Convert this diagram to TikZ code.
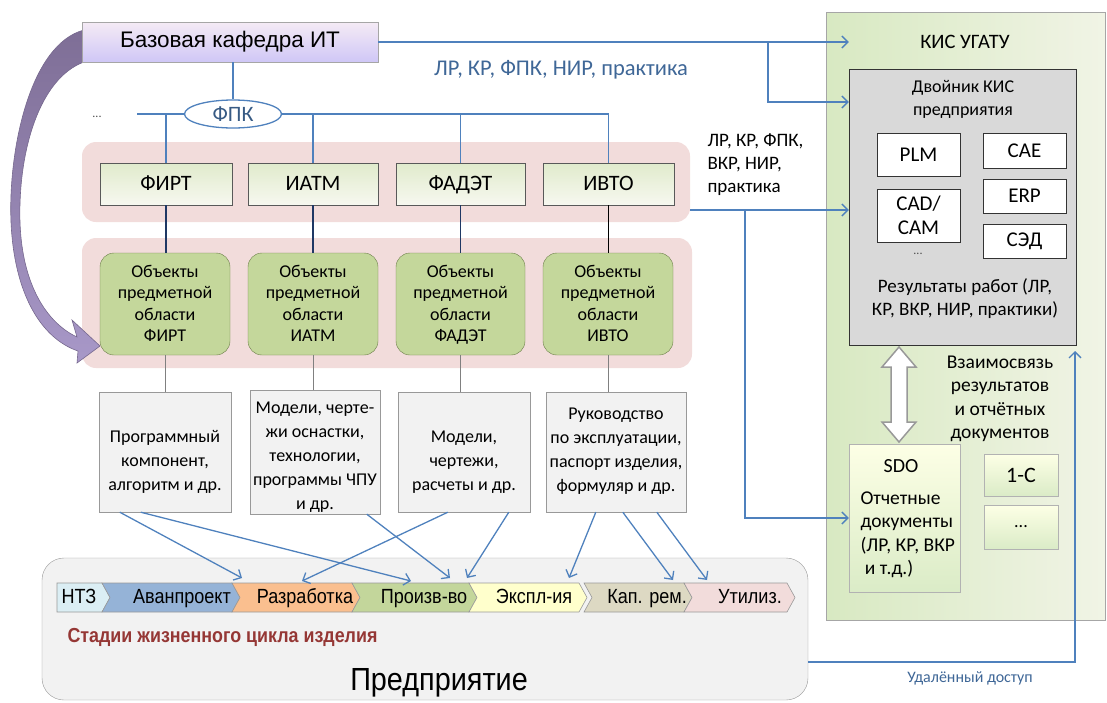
\documentclass[tikz,border=0pt]{standalone}
\usepackage{fontspec}
\setmainfont{Carlito}
\newfontfamily\arialf{Liberation Sans}
\newfontfamily\narrowf[FakeStretch=0.88]{Liberation Sans}
\newfontfamily\entf[FakeStretch=0.9]{Liberation Sans}
\newfontfamily\narrowbf[FakeStretch=0.88]{Liberation Sans Bold}
\usetikzlibrary{arrows.meta,shapes.geometric,calc}
\definecolor{cblue}{HTML}{4F81BD}
\definecolor{cnavy}{HTML}{1F3864}
\definecolor{cpink}{HTML}{F2DCDB}
\definecolor{cgreen}{HTML}{C4D79B}
\definecolor{cgborder}{HTML}{6B7D48}
\definecolor{cgray}{HTML}{F2F2F2}
\definecolor{cdred}{HTML}{953735}
\definecolor{cpurple}{HTML}{A898C8}
\definecolor{cpurpletop}{HTML}{7E6E96}
\definecolor{cpurpled}{HTML}{76688E}
\tikzset{
  band/.style={fill=cpink, rounded corners=14pt, draw=none},
  facbox/.style={draw=gray!70!black, top color=green!20!olive!20!white, bottom color=green!8!olive!6!white, minimum height=42pt, font=\fontsize{22}{24}\selectfont, text height=15pt, text depth=3pt, inner sep=0pt},
  objbox/.style={draw=cgborder, fill=cgreen, rounded corners=14pt, minimum height=102pt, align=center, font=\fontsize{18}{21.5}\selectfont, text depth=1pt, inner sep=0pt},
  resbox/.style={draw=gray!80, fill=cgray, minimum height=120pt, align=center, font=\fontsize{18}{24}\selectfont, text depth=5pt, inner sep=0pt},
  sysbox/.style={draw=black!80, fill=white, minimum width=83pt, align=center, font=\fontsize{21}{24}\selectfont, inner sep=0pt},
  gbox/.style={draw=gray!60, top color=green!8!yellow!10!white, bottom color=green!30!olive!22!white, align=center, inner sep=0pt},
  conn/.style={draw=cblue, line width=1.3pt, -{Straight Barb[length=6pt,width=12pt]}},
  bl/.style={draw=cblue, line width=1.3pt},
  nv/.style={draw=cnavy, line width=1.3pt},
  gl/.style={draw=gray, line width=0.9pt},
  stage/.style={draw=gray!80, line width=0.6pt},
  stagetxt/.style={font=\narrowf\fontsize{20.5}{22}\selectfont, inner sep=0pt, text height=15pt, text depth=4pt},
}
\begin{document}
\begin{tikzpicture}[x=1pt,y=-1pt]
\useasboundingbox (0,0) rectangle (1107,702);

% right panel
\node[draw=gray!70, left color=green!28!olive!24!white, right color=green!12!olive!10!white, minimum width=279pt, minimum height=608pt, inner sep=0pt] (kis) at (965.5,316) {};
\node[font=\fontsize{20.5}{22}\selectfont] (kist) at (965,42) {КИС УГАТУ};
\node[draw=black!80, fill=black!15, minimum width=227pt, minimum height=276pt, inner sep=0pt] (twin) at (962.5,207) {};
\node[align=center, font=\fontsize{18}{23}\selectfont] (twint) at (963,99) {Двойник КИС\\предприятия};
\node[sysbox, minimum height=43pt] (plm) at (918.5,154.5) {PLM};
\node[sysbox, minimum height=35pt] (cae) at (1024.5,150.5) {CAE};
\node[sysbox, minimum height=53pt, font=\fontsize{21}{24}\selectfont] (cad) at (918.5,215.5) {CAD/\\CAM};
\node[sysbox, minimum height=34pt] (erp) at (1024.5,196) {ERP};
\node[sysbox, minimum height=34pt] (sed) at (1024.5,241) {СЭД};
\node[font=\fontsize{12}{14}\selectfont, text=black!70] (kdots) at (918,254) {...};
\node[align=center, font=\fontsize{19}{23}\selectfont] (rest) at (965,299) {Результаты работ (ЛР,\\КР, ВКР, НИР, практики)};
\node[gbox, minimum width=111pt, minimum height=148pt] (sdo) at (904.5,518) {};
\node[font=\fontsize{20}{22}\selectfont] (sdot) at (901,466) {SDO};
\node[align=left, font=\fontsize{19.5}{23.5}\selectfont, anchor=west] (sdotx) at (857,535) {Отчетные\\документы\\(ЛР, КР, ВКР\\\ и т.д.)};
\node[gbox, minimum width=74pt, minimum height=42pt, font=\fontsize{22}{24}\selectfont] (c1) at (1021,475) {1-С};
\node[gbox, minimum width=74pt, minimum height=44pt, font=\fontsize{18}{20}\selectfont] (cdots) at (1021,527) {...};
\draw[draw=gray!80, fill=white, line width=1.5pt, line join=miter] (899,347) -- (916,367) -- (907,367) -- (907,422) -- (916,422) -- (899,442) -- (882,422) -- (891,422) -- (891,367) -- (882,367) -- cycle;
\node[align=center, font=\fontsize{19.5}{23.5}\selectfont] (rel) at (1000,399) {Взаимосвязь\\результатов\\и отчётных\\документов};

% enterprise
\node[draw=gray!80, fill=cgray, rounded corners=22pt, minimum width=766pt, minimum height=142pt, inner sep=0pt] (ent) at (425,629) {};
\foreach \xl/\xr/\c/\nm/\t/\tx/\first in {
  57/110/DBEEF4/s1/НТЗ/79/1,
  102/240/95B3D7/s2/Аванпроект/182/0,
  232/360/FABF8F/s3/Разработка/305/0,
  352/477/C3D69B/s4/Произв-во/424/0,
  469/587/FFFFCC/s5/Экспл-ия/534/0,
  584/692/DDD9C3/s6/Кап. рем./647/0,
  684/795/F2DCDB/s7/Утилиз./750/0}{
  \definecolor{stc}{HTML}{\c}
  \ifnum\first=1
    \draw[stage, fill=stc] (\xl,583) -- (\xr-8,583) -- (\xr,597.5) -- (\xr-8,612) -- (\xl,612) -- cycle;
  \else
    \draw[stage, fill=stc] (\xl,583) -- (\xr-8,583) -- (\xr,597.5) -- (\xr-8,612) -- (\xl,612) -- (\xl+8,597.5) -- cycle;
  \fi
  \node[stagetxt] (\nm) at (\tx,598) {\t};
}
\node[anchor=west, font=\narrowbf\fontsize{20.3}{22}\selectfont, text=cdred] (lct) at (64,637) {Стадии жизненного цикла изделия};
\node[font=\entf\fontsize{32}{34}\selectfont] (entt) at (439,683) {Предприятие};

% bands
\node[band, minimum width=608pt, minimum height=80pt] (band1) at (386,182) {};
\node[band, minimum width=610pt, minimum height=130pt] (band2) at (387,303) {};

% purple curved arrow
\shade[top color=cpurpletop, bottom color=cpurple, draw=cpurpled, line width=0.6pt]
  (84,30) .. controls (30,44) and (8,150) .. (11,222) .. controls (14,292) and (40,338) .. (78,351)
  -- (77,363) -- (100,346) -- (72,320) -- (77,337)
  .. controls (47,323) and (22,285) .. (20,222) .. controls (18,150) and (40,78) .. (84,62) -- cycle;

% base box
\node[draw=gray!70, top color=violet!8!white, bottom color=violet!30!blue!22!white, minimum width=296pt, minimum height=40pt, font=\arialf\fontsize{22.5}{24}\selectfont, inner sep=0pt] (base) at (230,42) {Базовая кафедра ИТ};
\node[draw=cblue, line width=1.3pt, fill=white, ellipse, minimum width=97pt, minimum height=28pt, inner sep=0pt, font=\fontsize{22}{22}\selectfont, text=cblue!70!black] (fpk) at (233,114) {ФПК};
\node[font=\fontsize{12}{14}\selectfont, text=black!70] (tdots) at (97,117) {...};
\coordinate (hl) at (137,114);

% faculties
\node[facbox, minimum width=132pt] (firt) at (166,184) {ФИРТ};
\node[facbox, minimum width=130pt] (iatm) at (313,184) {ИАТМ};
\node[facbox, minimum width=129pt] (fadet) at (460.5,184) {ФАДЭТ};
\node[facbox, minimum width=131pt] (ivto) at (608.5,184) {ИВТО};

\draw[bl] (fpk.north |- base.south) -- (fpk.north);
\draw[bl] (hl) -- (fpk.west);
\draw[bl] (fpk.east) -- (ivto.north |- fpk.east);
\foreach \n in {firt,iatm,fadet,ivto}{\draw[bl] (\n.north |- fpk.east) -- (\n.north);}

% objects
\node[objbox, minimum width=130pt] (ofirt) at (165,304) {Объекты\\предметной\\области\\ФИРТ};
\node[objbox, minimum width=130pt] (oiatm) at (313,304) {Объекты\\предметной\\области\\ИАТМ};
\node[objbox, minimum width=129pt] (ofadet) at (460.5,304) {Объекты\\предметной\\области\\ФАДЭТ};
\node[objbox, minimum width=130pt] (oivto) at (608,304) {Объекты\\предметной\\области\\ИВТО};
\draw[nv] (firt.south) -- (firt.south |- ofirt.north);
\draw[nv] (iatm.south) -- (iatm.south |- oiatm.north);
\draw[nv] (fadet.south) -- (fadet.south |- ofadet.north);
\draw[black, line width=1.3pt] (ivto.south) -- (ivto.south |- oivto.north);

% results
\node[resbox, minimum width=132pt] (r1) at (165,452) {\rule{0pt}{33pt}Программный\\компонент,\\алгоритм и др.};
\node[resbox, minimum width=130pt] (r2) at (315,452) {\rule{0pt}{23pt}Модели, черте-\\жи оснастки,\\технологии,\\программы ЧПУ\\и др.};
\node[resbox, minimum width=132pt] (r3) at (464,452) {\rule{0pt}{33pt}Модели,\\чертежи,\\расчеты и др.};
\node[resbox, minimum width=140pt] (r4) at (616,452) {Руководство\\по эксплуатации,\\паспорт изделия,\\формуляр и др.};
\draw[gl] (ofirt.south) -- (ofirt.south |- r1.north);
\draw[gl] (oiatm.south) -- (oiatm.south |- r2.north);
\draw[gl] (ofadet.south) -- (ofadet.south |- r3.north);
\draw[gl] (oivto.south) -- (oivto.south |- r4.north);

% arrows to stages
\coordinate (t1) at (242,578);
\coordinate (t2) at (411,581);
\coordinate (t3) at (450,578);
\coordinate (t4) at (302,581);
\coordinate (t5) at (467,578);
\coordinate (t6) at (569,578);
\coordinate (t7) at (673,580);
\coordinate (t8) at (707,580);
\draw[conn] ($(r1.south west)+(21,0)$) -- (t1);
\draw[conn] ($(r1.south west)+(42,0)$) -- (t2);
\draw[conn] ($(r2.south west)+(117,0)$) -- (t3);
\draw[conn] ($(r3.south west)+(50,0)$) -- (t4);
\draw[conn] ($(r3.south west)+(111,0)$) -- (t5);
\draw[conn] ($(r4.south west)+(50,0)$) -- (t6);
\draw[conn] ($(r4.south west)+(77,0)$) -- (t7);
\draw[conn] ($(r4.south west)+(111,0)$) -- (t8);

% right-side connectors
\coordinate (br1) at (768,42);
\coordinate (b3) at (690,210);
\coordinate (br2) at (745,210);
\coordinate (ra) at (808,662);
\coordinate (rb) at (1075,351);
\draw[conn] (base.east) -- (twin.west |- base.east);
\draw[conn] (br1) |- (twin.west |- 0,102);
\draw[conn] (b3) -- (twin.west |- b3);
\draw[conn] (br2) |- (sdo.west);
\draw[conn] (ra) -| (rb);

\node[font=\fontsize{22.5}{24}\selectfont, text=cblue!80!black] (lbl1) at (561,70) {ЛР, КР, ФПК, НИР, практика};
\node[align=left, anchor=west, font=\fontsize{19}{23}\selectfont] (lbl2) at (704,165) {ЛР, КР, ФПК,\\ВКР, НИР,\\практика};
\node[font=\fontsize{16}{18}\selectfont, text=cblue!80!black] (lbl3) at (970,678) {Удалённый доступ};
\end{tikzpicture}
\end{document}
